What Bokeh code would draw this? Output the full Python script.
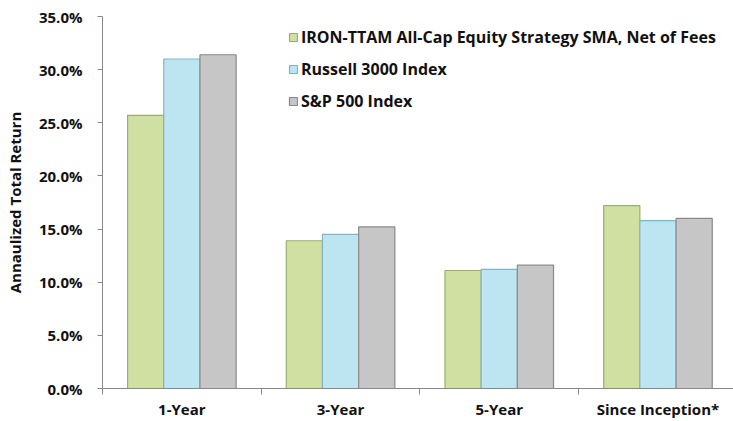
from bokeh.plotting import figure
from bokeh.models import (ColumnDataSource, Range1d, FixedTicker, NumeralTickFormatter,
                          Legend, LegendItem)
from bokeh.transform import dodge
from bokeh.embed import file_html
from bokeh.resources import INLINE

categories = ["1-Year", "3-Year", "5-Year", "Since Inception*"]
series_names = ["IRON-TTAM All-Cap Equity Strategy SMA, Net of Fees",
                "Russell 3000 Index", "S&P 500 Index"]
iron_ttam = [0.257, 0.139, 0.111, 0.172]
russell_3000 = [0.310, 0.145, 0.112, 0.158]
sp_500 = [0.314, 0.152, 0.116, 0.160]
y_ticks = [0.0, 0.05, 0.10, 0.15, 0.20, 0.25, 0.30, 0.35]
y_max = 0.35

fills = ["#CFE0A2", "#BDE5F1", "#C6C6C6"]
edges = ["#9AAE70", "#82B5C4", "#8A8A8A"]

centers = [i + 0.5 for i in range(len(categories))]
bounds = [float(i) for i in range(len(categories) + 1)]

src = ColumnDataSource(dict(x=centers, iron=iron_ttam, russell=russell_3000, sp=sp_500))

FONT = "Open Sans"

p = figure(width=733, height=421, output_backend="svg", toolbar_location=None,
           x_range=Range1d(0, 3.976), y_range=Range1d(0, y_max),
           min_border_left=102, min_border_right=0, min_border_top=16, min_border_bottom=32)
p.outline_line_color = None
p.background_fill_color = "white"
p.border_fill_color = "white"

bw = 0.228
renderers = []
for col, off, fc, ec in zip(["iron", "russell", "sp"], [-bw, 0.0, bw], fills, edges):
    r = p.vbar(x=dodge("x", off), top=col, width=bw, bottom=0, source=src,
               fill_color=fc, line_color=ec, line_width=1.2)
    renderers.append(r)

# axes
p.xaxis.ticker = FixedTicker(ticks=centers, minor_ticks=bounds)
p.xaxis.major_label_overrides = {c: lab for c, lab in zip(centers, categories)}
p.xaxis.major_tick_out = 0
p.xaxis.major_tick_in = 0
p.xaxis.minor_tick_out = 6
p.xaxis.minor_tick_in = 0
p.xaxis.minor_tick_line_color = "#888888"
p.xaxis.axis_line_color = "#888888"
p.xaxis.major_label_text_font = FONT
p.xaxis.major_label_text_font_style = "bold"
p.xaxis.major_label_text_font_size = "15px"
p.xaxis.major_label_text_color = "#111111"
p.xaxis.major_label_standoff = 4

p.yaxis.ticker = FixedTicker(ticks=y_ticks)
p.yaxis.formatter = NumeralTickFormatter(format="0.0%")
p.yaxis.minor_tick_line_color = None
p.yaxis.major_tick_out = 5
p.yaxis.major_tick_in = 0
p.yaxis.major_tick_line_color = "#888888"
p.yaxis.axis_line_color = "#888888"
p.yaxis.major_label_text_font = FONT
p.yaxis.major_label_text_font_style = "bold"
p.yaxis.major_label_text_font_size = "15px"
p.yaxis.major_label_text_color = "#111111"
p.yaxis.major_label_standoff = 15
p.yaxis.axis_label = "Annaulized Total Return"
p.yaxis.axis_label_text_font = FONT
p.yaxis.axis_label_text_font_style = "bold"
p.yaxis.axis_label_text_font_size = "15px"
p.yaxis.axis_label_text_color = "#111111"
p.yaxis.axis_label_standoff = 11

p.xgrid.visible = False
p.ygrid.ticker = FixedTicker(ticks=[y_max])
p.ygrid.grid_line_color = "#888888"

legend = Legend(items=[LegendItem(label=n, renderers=[r]) for n, r in zip(series_names, renderers)],
                location=(186, 276), orientation="vertical",
                glyph_width=10, glyph_height=10, label_height=22, spacing=10,
                padding=0, margin=0, label_standoff=3,
                label_text_font=FONT, label_text_font_style="bold",
                label_text_font_size="16px", label_text_color="#111111",
                border_line_color=None, background_fill_alpha=0)
p.add_layout(legend)

open("out.html", "w").write(file_html(p, INLINE))
